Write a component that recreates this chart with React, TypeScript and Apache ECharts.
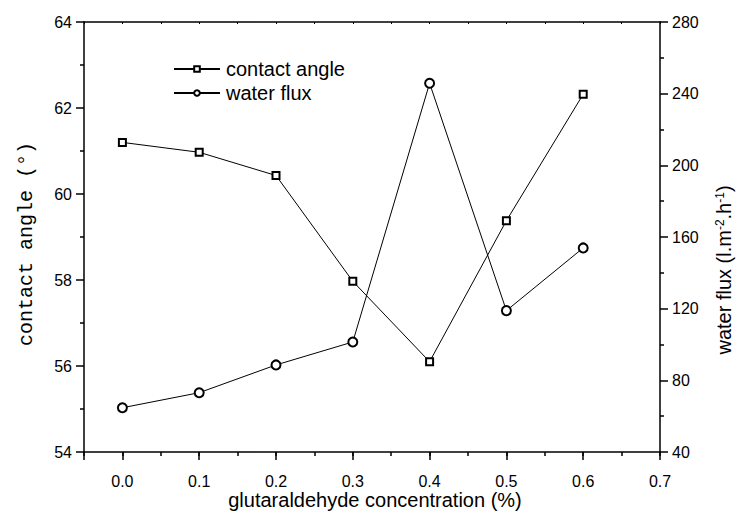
import React, { useEffect, useRef } from "react";
import * as echarts from "echarts";

const concentrations = [0.0, 0.1, 0.2, 0.3, 0.4, 0.5, 0.6];
const contactAngle = [61.2, 60.97, 60.43, 57.97, 56.1, 59.38, 62.32];
const waterFlux = [64.7, 73.1, 88.6, 101.4, 245.8, 118.9, 153.9];
const seriesNames = ["contact angle", "water flux"];
const xTitle = "glutaraldehyde concentration (%)";
const leftTitle = "contact angle (\u00B0)";

const BLACK = "#000";
const SANS = "'Liberation Sans', Arial, sans-serif";

export default function App() {
  const ref = useRef<HTMLDivElement>(null);
  useEffect(() => {
    document.body.style.margin = "0";
    if (!ref.current) return;
    const chart = echarts.init(ref.current, null, { renderer: "svg" });
    const axisLine = { show: true, onZero: false, lineStyle: { color: BLACK, width: 1.5 } };
    const option = {
      animation: false,
      backgroundColor: "#fff",
      grid: { left: 84, right: 77, top: 22, bottom: 64, containLabel: false },
      legend: {
        orient: "vertical",
        left: 168,
        top: 54,
        itemWidth: 46,
        itemHeight: 7,
        itemGap: 4,
        textStyle: { color: BLACK, fontSize: 20, fontFamily: SANS, lineHeight: 20, padding: [0, 0, 0, 1] },
        data: seriesNames,
      },
      xAxis: [
        {
          type: "value",
          position: "bottom",
          min: -0.05,
          max: 0.7,
          splitNumber: 7,
          axisLine,
          axisTick: { show: true, length: 8, inside: false, lineStyle: { color: BLACK, width: 1.5 } },
          axisLabel: {
            color: BLACK,
            fontSize: 16,
            fontFamily: SANS,
            margin: 21,
            formatter: (v: number) => (v < -1e-9 ? "" : v.toFixed(1)),
          },
          splitLine: { show: false },
        },
        {
          type: "value",
          position: "bottom",
          min: -0.05,
          max: 0.7,
          interval: 0.05,
          axisLine: { show: false, onZero: false },
          axisTick: { show: true, length: 4, inside: false, lineStyle: { color: BLACK, width: 1.5 } },
          axisLabel: { show: false },
          splitLine: { show: false },
        },
        {
          type: "value",
          position: "top",
          min: -0.05,
          max: 0.7,
          interval: 0.05,
          axisLine,
          axisTick: { show: true, length: 2, inside: true, lineStyle: { color: BLACK, width: 1 } },
          axisLabel: { show: false },
          splitLine: { show: false },
        },
      ],
      yAxis: [
        {
          type: "value",
          position: "left",
          min: 54,
          max: 64,
          interval: 2,
          axisLine,
          axisTick: { show: true, length: 8, inside: false, lineStyle: { color: BLACK, width: 1.5 } },
          minorTick: { show: true, splitNumber: 2, length: 4, lineStyle: { color: BLACK, width: 1.5 } },
          axisLabel: { color: BLACK, fontSize: 16, fontFamily: SANS, margin: 12 },
          splitLine: { show: false },
        },
        {
          type: "value",
          position: "right",
          min: 40,
          max: 280,
          interval: 40,
          axisLine,
          axisTick: { show: true, length: 8, inside: false, lineStyle: { color: BLACK, width: 1.5 } },
          minorTick: { show: true, splitNumber: 2, length: 4, lineStyle: { color: BLACK, width: 1.5 } },
          axisLabel: { color: BLACK, fontSize: 16, fontFamily: SANS, margin: 12 },
          splitLine: { show: false },
        },
      ],
      series: [
        {
          name: seriesNames[0],
          type: "line",
          xAxisIndex: 0,
          yAxisIndex: 0,
          data: concentrations.map((x, i) => [x, contactAngle[i]]),
          symbol: "emptyRect",
          symbolSize: 7,
          lineStyle: { color: BLACK, width: 1 },
          itemStyle: { color: BLACK, borderColor: BLACK, borderWidth: 1 },
        },
        {
          name: seriesNames[1],
          type: "line",
          xAxisIndex: 0,
          yAxisIndex: 1,
          data: concentrations.map((x, i) => [x, waterFlux[i]]),
          symbol: "emptyCircle",
          symbolSize: 9,
          lineStyle: { color: BLACK, width: 1 },
          itemStyle: { color: BLACK, borderColor: BLACK, borderWidth: 1 },
        },
      ],
      graphic: [
        {
          type: "text",
          x: 375,
          y: 500,
          style: {
            text: xTitle,
            fill: BLACK,
            fontSize: 20,
            fontFamily: SANS,
            align: "center",
            verticalAlign: "middle",
          },
        },
        {
          type: "text",
          x: 26,
          y: 244,
          rotation: Math.PI / 2,
          style: {
            text: leftTitle,
            fill: BLACK,
            fontSize: 20,
            fontFamily: "'Liberation Mono', 'Courier New', monospace",
            align: "center",
            verticalAlign: "middle",
          },
        },
        {
          type: "text",
          x: 724,
          y: 270,
          rotation: Math.PI / 2,
          style: {
            text: "water flux (l.m{sup|-2}.h{sup|-1})",
            fill: BLACK,
            fontSize: 20,
            fontFamily: SANS,
            align: "center",
            verticalAlign: "middle",
            rich: {
              sup: { fontSize: 12, fontFamily: SANS, fill: BLACK, verticalAlign: "top", padding: [0, 0, 8, 0] },
            },
          },
        },
      ],
    };
    chart.setOption(option as any);
    return () => chart.dispose();
  }, []);
  return <div ref={ref} style={{ width: 737, height: 516 }} />;
}
